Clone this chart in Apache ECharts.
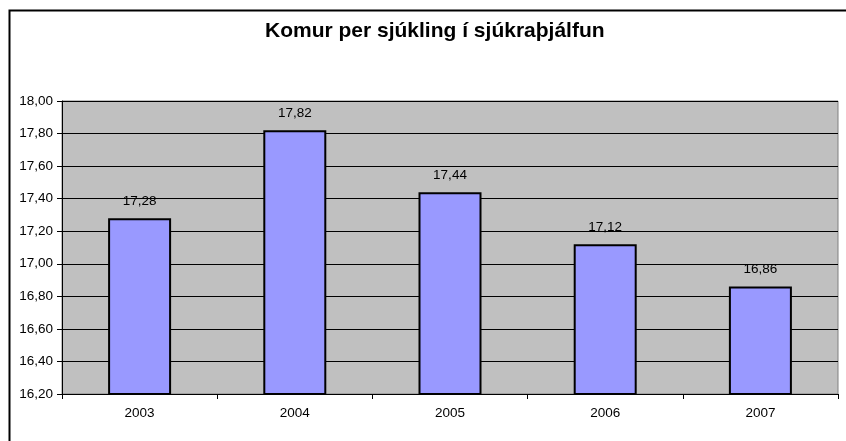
<!DOCTYPE html>
<html>
<head>
<meta charset="utf-8">
<script src="https://cdn.jsdelivr.net/npm/echarts@6/dist/echarts.min.js"></script>
<style>
html, body { margin: 0; padding: 0; background: #fff; }
#chart { width: 846px; height: 441px; }
</style>
</head>
<body>
<div id="chart"></div>
<script>
var years = ['2003', '2004', '2005', '2006', '2007'];
var visits = [17.28, 17.82, 17.44, 17.12, 16.86];
var titleText = 'Komur per sjúkling í sjúkraþjálfun';

function comma(v) {
    return Number(v).toFixed(2).replace('.', ',');
}

var chart = echarts.init(document.getElementById('chart'));

var option = {
    animation: false,
    textStyle: { fontFamily: 'Liberation Sans, Arial, sans-serif' },
    title: {
        text: titleText,
        left: 260,
        top: 16,
        textStyle: { fontSize: 21, fontWeight: 'bold', color: '#000' }
    },
    graphic: [{
        type: 'rect',
        shape: { x: 9.5, y: 10.5, width: 900, height: 500 },
        style: { fill: 'none', stroke: '#000', lineWidth: 2 },
        z: -1
    }],
    grid: {
        left: 62,
        right: 8,
        top: 101,
        bottom: 47,
        show: true,
        backgroundColor: '#c0c0c0',
        borderColor: '#808080',
        borderWidth: 1
    },
    xAxis: {
        type: 'category',
        data: years,
        axisLine: { lineStyle: { color: '#000', width: 1 } },
        axisTick: { show: true, alignWithLabel: false, length: 5, lineStyle: { color: '#000' } },
        axisLabel: { color: '#000', fontSize: 13.5, margin: 12 }
    },
    yAxis: {
        type: 'value',
        min: 16.2,
        max: 18.0,
        interval: 0.2,
        axisLine: { show: true, lineStyle: { color: '#000', width: 1 } },
        axisTick: { show: true, length: 5, lineStyle: { color: '#000' } },
        axisLabel: { color: '#000', fontSize: 13.5, margin: 9, formatter: comma },
        splitLine: { lineStyle: { color: '#000', width: 1 } }
    },
    series: [{
        type: 'bar',
        data: visits,
        barWidth: 63,
        itemStyle: { color: '#9999ff', borderColor: '#000', borderWidth: 2 },
        label: {
            show: true,
            position: 'top',
            distance: 10,
            color: '#000',
            fontSize: 13.5,
            formatter: function (p) { return comma(p.value); }
        }
    }]
};

chart.setOption(option);
</script>
</body>
</html>
